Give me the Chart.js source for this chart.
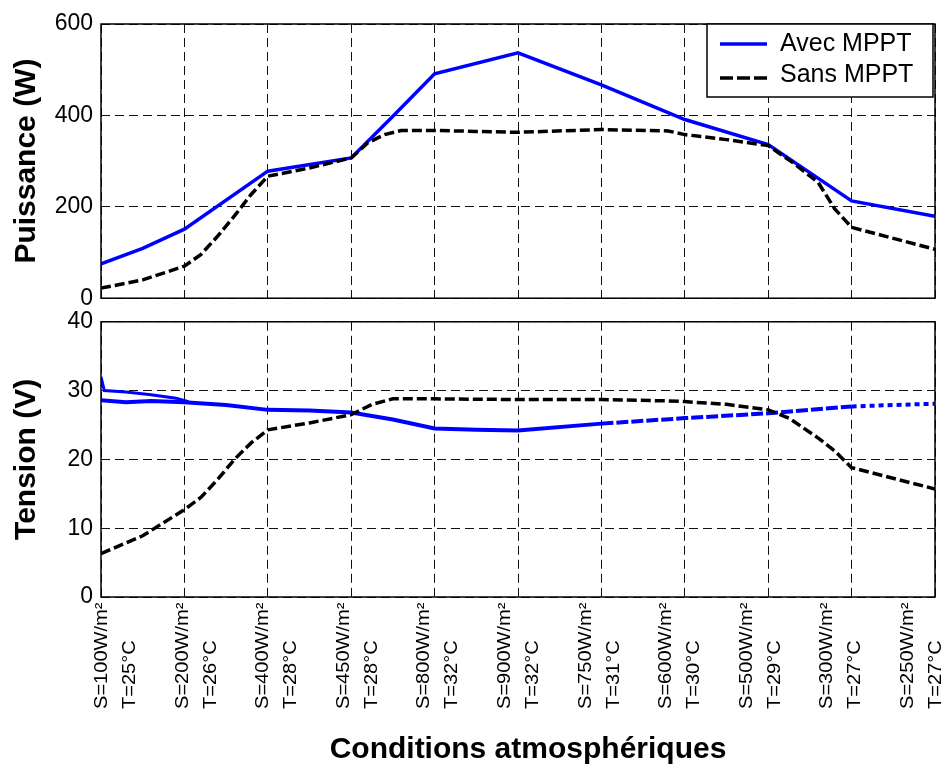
<!DOCTYPE html>
<html>
<head>
<meta charset="utf-8">
<script src="https://cdn.jsdelivr.net/npm/chart.js@4.4.1/dist/chart.umd.min.js"></script>
<style>
  html, body { margin: 0; padding: 0; background: #fff; }
  #wrap { position: relative; width: 947px; height: 769px; }
  .pane { position: absolute; left: 0; width: 947px; }
  #top { top: 0; height: 320px; }
  #bottom { top: 300px; height: 469px; }
</style>
</head>
<body>
<div id="wrap">
  <div class="pane" id="top"><canvas id="power" width="947" height="320"></canvas></div>
  <div class="pane" id="bottom"><canvas id="voltage" width="947" height="469"></canvas></div>
</div>
<script>
// Sequence of atmospheric conditions applied to the PV panel
const irradiance = ['S=100W/m²', 'S=200W/m²', 'S=400W/m²', 'S=450W/m²', 'S=800W/m²', 'S=900W/m²',
                    'S=750W/m²', 'S=600W/m²', 'S=500W/m²', 'S=300W/m²', 'S=250W/m²'];
const temperature = ['T=25°C', 'T=26°C', 'T=28°C', 'T=28°C', 'T=32°C', 'T=32°C',
                     'T=31°C', 'T=30°C', 'T=29°C', 'T=27°C', 'T=27°C'];

// Positions are expressed along the condition sequence (0 = first step, 10 = last step)
// Power delivered with the tracker (W)
const powerMpptAt = [0, 0.5, 1, 2, 3, 3.5, 4, 5, 6, 7, 8, 9, 10];
const powerMpptW  = [75, 109, 151, 278, 307, 398, 491, 537, 467, 391, 336, 213, 179];

// Power delivered without the tracker (W)
const powerFixedAt = [0, 0.5, 1, 1.2, 1.4, 1.6, 1.8, 2, 2.5, 3, 3.2, 3.4, 3.6, 4, 4.5, 5, 6, 6.8, 7, 7.5, 8, 8.3, 8.6, 8.8, 9, 10];
const powerFixedW  = [22, 40, 70, 96, 136, 180, 227, 267, 285, 307, 340, 358, 367, 367, 365, 363, 369, 366, 358, 347, 334, 296, 253, 195, 155, 107];

// Panel voltage with the tracker (V)
const voltMpptAt = [0, 0.3, 0.6, 1, 1.5, 2, 2.5, 3, 3.5, 4, 4.5, 5, 6, 7, 8, 9, 10];
const voltMpptV  = [28.6, 28.3, 28.5, 28.3, 27.9, 27.2, 27.1, 26.8, 25.8, 24.5, 24.3, 24.2, 25.2, 26.0, 26.7, 27.7, 28.1];

// Start-up oscillation of the tracker: upper branch (V)
const voltStartAt = [0, 0.04, 0.3, 0.6, 0.9, 1.05];
const voltStartV  = [32.0, 30.0, 29.8, 29.4, 28.9, 28.4];

// Panel voltage without the tracker (V)
const voltFixedAt = [0, 0.5, 1, 1.2, 1.4, 1.6, 1.8, 2, 2.5, 3, 3.25, 3.5, 4, 5, 6, 6.8, 7, 7.5, 8, 8.25, 8.6, 8.8, 9, 10];
const voltFixedV  = [6.3, 8.9, 12.7, 14.5, 17.1, 20.0, 22.4, 24.3, 25.3, 26.5, 28.0, 28.8, 28.8, 28.7, 28.7, 28.5, 28.4, 28.0, 27.2, 26.0, 23.1, 21.2, 18.8, 15.7];

const FONT = '"Liberation Sans", Arial, Helvetica, sans-serif';
const BLUE = '#0000ff';

const pts = (xs, ys) => xs.map((x, i) => ({ x, y: ys[i] }));

// Closed black frame around each plot area
const framePlugin = {
  id: 'frame',
  afterDatasetsDraw(chart) {
    const { ctx, chartArea: a } = chart;
    ctx.save();
    ctx.strokeStyle = '#000';
    ctx.lineWidth = 1.5;
    ctx.strokeRect(a.left, a.top, a.right - a.left, a.bottom - a.top);
    ctx.restore();
  }
};

// Boxed legend in the upper-right corner of the power plot
const legendBox = {
  id: 'legendBox',
  afterDraw(chart) {
    const { ctx, chartArea: a } = chart;
    const w = 226, h = 73;
    const x = a.right - w - 2, y = a.top;
    ctx.save();
    ctx.fillStyle = '#fff';
    ctx.fillRect(x, y, w, h);
    ctx.strokeStyle = '#000';
    ctx.lineWidth = 1.5;
    ctx.strokeRect(x, y, w, h);
    chart.data.datasets.forEach((ds, i) => {
      const ly = y + 20 + i * 34;
      ctx.beginPath();
      ctx.setLineDash(ds.legendDash || []);
      ctx.lineWidth = ds.borderWidth;
      ctx.strokeStyle = ds.borderColor;
      ctx.moveTo(x + 13, ly);
      ctx.lineTo(x + 60, ly);
      ctx.stroke();
      ctx.setLineDash([]);
      ctx.fillStyle = '#000';
      ctx.font = '25px ' + FONT;
      ctx.textBaseline = 'middle';
      ctx.textAlign = 'left';
      ctx.fillText(ds.label, x + 73, y + 20 + i * 31);
    });
    ctx.restore();
  }
};

// Two-line vertical condition labels under the voltage plot, plus the axis title
const conditionLabels = {
  id: 'conditionLabels',
  afterDraw(chart) {
    const { ctx, chartArea: a } = chart;
    const n = irradiance.length;
    const first = a.left + 6;
    const last = a.right - 22;
    const step = (last - first) / (n - 1);
    const startY = a.bottom + 112;
    ctx.save();
    ctx.fillStyle = '#000';
    ctx.font = '17px ' + FONT;
    ctx.textAlign = 'left';
    ctx.textBaseline = 'alphabetic';
    for (let i = 0; i < n; i++) {
      const bx = first + i * step;
      [irradiance[i], temperature[i]].forEach((txt, k) => {
        ctx.save();
        ctx.translate(bx + k * 28, startY);
        ctx.rotate(-Math.PI / 2);
        ctx.scale(1.18, 1.05);
        ctx.fillText(txt, 0, 0);
        ctx.restore();
      });
    }
    ctx.font = 'bold 30px ' + FONT;
    ctx.textAlign = 'center';
    ctx.textBaseline = 'middle';
    ctx.fillText('Conditions atmosphériques', a.left + (chart.width - a.left) / 2 + 4, a.bottom + 153);
    ctx.restore();
  }
};

function xScale(height) {
  return {
    type: 'linear', min: 0, max: 10,
    ticks: { display: false, stepSize: 1 },
    grid: { color: '#111', lineWidth: 1, drawTicks: false },
    border: { display: false, dash: [9, 5] },
    afterFit: s => { s.height = height; }
  };
}

function yScale(max, step, title) {
  return {
    min: 0, max: max,
    ticks: { stepSize: step, color: '#000', padding: 8, font: { family: FONT, size: 23 } },
    grid: { color: '#111', lineWidth: 1, drawTicks: false },
    border: { display: false, dash: [9, 5] },
    title: {
      display: true, text: title, color: '#000',
      font: { family: FONT, size: 30, weight: 'bold' },
      padding: { top: 9, bottom: 0 }
    },
    afterFit: s => { s.width = 101; }
  };
}

const common = {
  responsive: false,
  animation: false,
  events: [],
  plugins: { legend: { display: false }, tooltip: { enabled: false } },
  elements: { point: { radius: 0 }, line: { tension: 0 } }
};

new Chart(document.getElementById('power'), {
  type: 'line',
  data: {
    datasets: [
      {
        label: 'Avec MPPT', data: pts(powerMpptAt, powerMpptW),
        borderColor: BLUE, borderWidth: 3.5, order: 1
      },
      {
        label: 'Sans MPPT', data: pts(powerFixedAt, powerFixedW),
        borderColor: '#000', borderWidth: 3.5, borderDash: [10, 4], legendDash: [13, 4], order: 0
      }
    ]
  },
  options: Object.assign({}, common, {
    layout: { padding: { top: 24, right: 12, left: 0, bottom: 0 } },
    scales: { x: xScale(21), y: yScale(600, 200, 'Puissance (W)') }
  }),
  plugins: [framePlugin, legendBox]
});

new Chart(document.getElementById('voltage'), {
  type: 'line',
  data: {
    datasets: [
      {
        label: 'Avec MPPT', data: pts(voltMpptAt, voltMpptV),
        borderColor: BLUE, borderWidth: 4, order: 1,
        segment: {
          borderDash: c => c.p0.parsed.x >= 8.5 ? [5, 4] : (c.p0.parsed.x >= 5.5 ? [12, 3] : undefined)
        }
      },
      {
        label: 'Avec MPPT (démarrage)', data: pts(voltStartAt, voltStartV),
        borderColor: BLUE, borderWidth: 3, order: 2
      },
      {
        label: 'Sans MPPT', data: pts(voltFixedAt, voltFixedV),
        borderColor: '#000', borderWidth: 3.5, borderDash: [10, 4], order: 0
      }
    ]
  },
  options: Object.assign({}, common, {
    layout: { padding: { top: 19, right: 12, left: 0, bottom: 0 } },
    scales: { x: xScale(172), y: yScale(40, 10, 'Tension (V)') }
  }),
  plugins: [framePlugin, conditionLabels]
});
</script>
</body>
</html>
